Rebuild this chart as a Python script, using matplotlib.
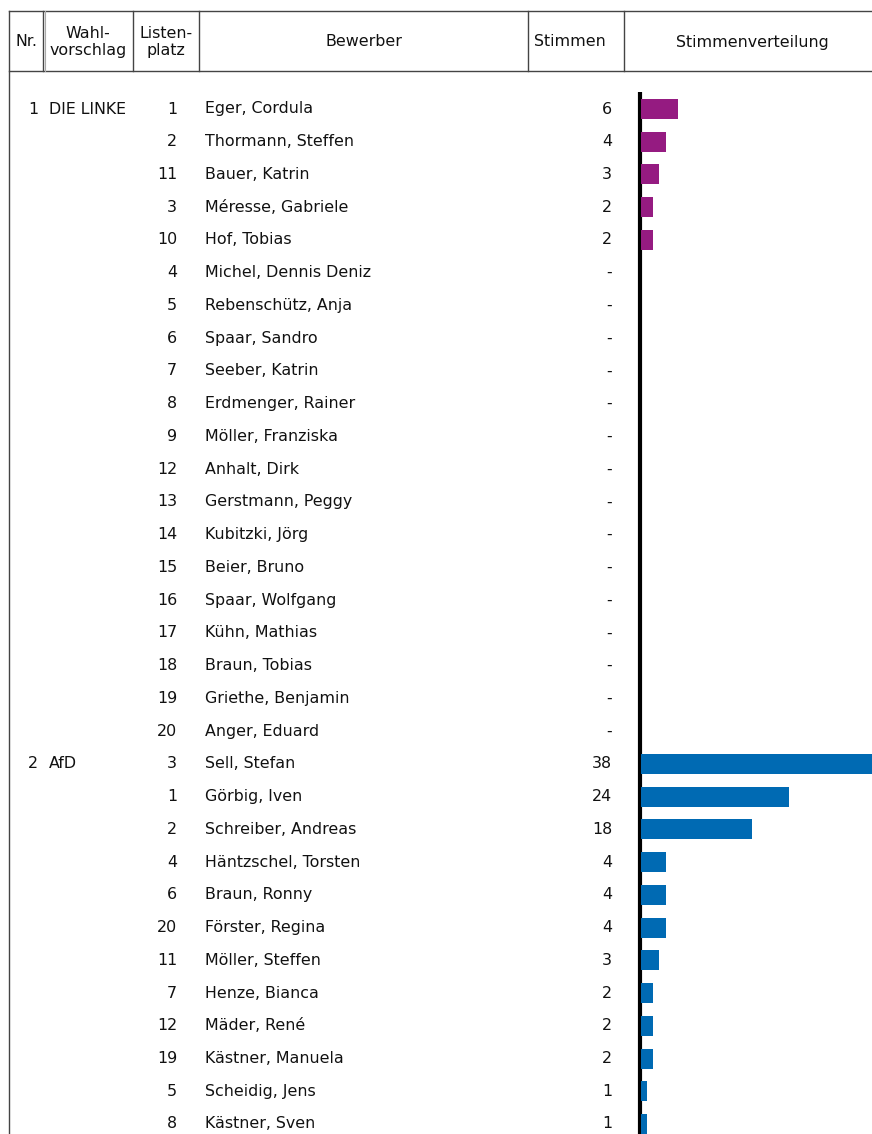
import matplotlib
matplotlib.use("Agg")
import matplotlib.pyplot as plt

plt.rcParams['font.family'] = ['DejaVu Sans']

# ---- data ----
party_nr = ["1"] + [""] * 19 + ["2"] + [""] * 11
party_name = ["DIE LINKE"] + [""] * 19 + ["AfD"] + [""] * 11
listenplatz = [1, 2, 11, 3, 10, 4, 5, 6, 7, 8, 9, 12, 13, 14, 15, 16, 17, 18, 19, 20,
               3, 1, 2, 4, 6, 20, 11, 7, 12, 19, 5, 8]
bewerber = ["Eger, Cordula", "Thormann, Steffen", "Bauer, Katrin", "Méresse, Gabriele",
            "Hof, Tobias", "Michel, Dennis Deniz", "Rebenschütz, Anja", "Spaar, Sandro",
            "Seeber, Katrin", "Erdmenger, Rainer", "Möller, Franziska", "Anhalt, Dirk",
            "Gerstmann, Peggy", "Kubitzki, Jörg", "Beier, Bruno", "Spaar, Wolfgang",
            "Kühn, Mathias", "Braun, Tobias", "Griethe, Benjamin", "Anger, Eduard",
            "Sell, Stefan", "Görbig, Iven", "Schreiber, Andreas", "Häntzschel, Torsten",
            "Braun, Ronny", "Förster, Regina", "Möller, Steffen", "Henze, Bianca",
            "Mäder, René", "Kästner, Manuela", "Scheidig, Jens", "Kästner, Sven"]
stimmen = [6, 4, 3, 2, 2, 0, 0, 0, 0, 0, 0, 0, 0, 0, 0, 0, 0, 0, 0, 0,
           38, 24, 18, 4, 4, 4, 3, 2, 2, 2, 1, 1]
party_of_row = ["LINKE"] * 20 + ["AfD"] * 12
party_colors = {"LINKE": "#951B81", "AfD": "#006AB3"}
headers = ["Nr.", "Wahl-\nvorschlag", "Listen-\nplatz", "Bewerber", "Stimmen", "Stimmenverteilung"]

# ---- layout (pixels) ----
W, H = 872, 1134
fig = plt.figure(figsize=(W / 100, H / 100), dpi=100)
bg = fig.add_axes([0, 0, 1, 1])
bg.set_xlim(0, W)
bg.set_ylim(H, 0)
bg.axis("off")

row0, dy = 109.0, (1124.0 - 109.0) / 31
top, hline = 11, 71
cols = [9, 43, 133, 199, 528, 624]
lc = "#444444"
bg.plot([9, W], [top, top], color=lc, lw=1)
bg.plot([9, W], [hline, hline], color=lc, lw=1)
bg.plot([9, 9], [top, H], color=lc, lw=1)
for x in cols[1:]:
    bg.plot([x, x], [top, hline], color=lc, lw=1)
bg.plot([45, 45], [top, hline], color="#aaaaaa", lw=0.8)

hx = [26, 88, 166, 364, 570, 752]
fs = 11.4
for x, t in zip(hx, headers):
    bg.text(x, 42, t, ha="center", va="center", fontsize=fs, color="#111111", linespacing=1.25)

for i in range(len(bewerber)):
    y = row0 + i * dy
    if party_nr[i]:
        bg.text(38, y, party_nr[i], ha="right", va="center", fontsize=fs, color="#111111")
        bg.text(49, y, party_name[i], ha="left", va="center", fontsize=fs, color="#111111")
    bg.text(177, y, str(listenplatz[i]), ha="right", va="center", fontsize=fs, color="#111111")
    bg.text(205, y, bewerber[i], ha="left", va="center", fontsize=fs, color="#111111")
    if stimmen[i] > 0:
        bg.text(612, y, str(stimmen[i]), ha="right", va="center", fontsize=fs, color="#111111")
    else:
        bg.text(609, y, "-", ha="center", va="center", fontsize=fs, color="#111111")

# ---- bar axes ----
bx0, by0 = 641, 92
ax = fig.add_axes([bx0 / W, 0, (W - bx0) / W, (H - by0) / H])
ax.set_xlim(0, (W - bx0) / 6.15)
ax.set_ylim((H - row0) / dy, (by0 - row0) / dy)
ax.axis("off")
ax.barh(range(len(stimmen)), stimmen, height=20 / dy,
        color=[party_colors[p] for p in party_of_row], left=0)
bg.plot([640, 640], [by0, H], color="black", lw=3, solid_capstyle="butt")

fig.savefig("out.png", dpi=100)
